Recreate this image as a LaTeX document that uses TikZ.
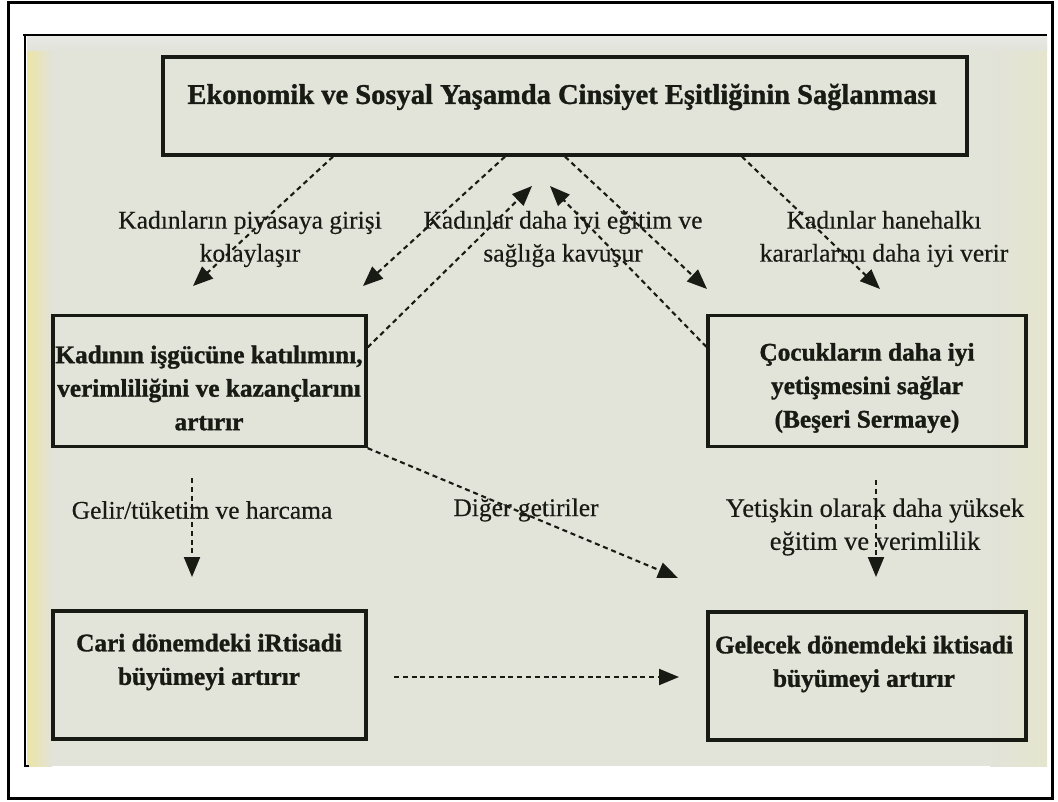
\documentclass[tikz,border=0pt]{standalone}
\usepackage{fontspec}
\setmainfont{Liberation Serif}[UprightFeatures={FakeBold=0.3},BoldFeatures={FakeBold=1.2}]
\usetikzlibrary{arrows.meta,calc}
\definecolor{paper}{RGB}{226,227,217}
\definecolor{ink}{RGB}{24,26,20}
\definecolor{edgeyel}{RGB}{236,228,165}
\definecolor{topgray}{RGB}{232,232,229}
\definecolor{rightyel}{RGB}{229,229,206}
\begin{document}
\begin{tikzpicture}[x=1pt,y=-1pt,
  boxframe/.style={draw=ink, line width=3.3pt, inner sep=0pt, rectangle},
  boxtext/.style={font=\bfseries\fontsize{25.3}{33.5}\selectfont, text=ink, align=center, inner sep=0pt},
  lbl/.style={font=\fontsize{25.5}{33}\selectfont, text=ink, align=center, inner sep=0pt},
  dl/.style={draw=ink, line width=2.1pt, dash pattern=on 5pt off 3.8pt, -{Triangle[length=20pt,width=16pt]}}]
\useasboundingbox (0,0) rectangle (1058,801);
% scanned page
\fill[paper] (27,36) rectangle (1047,766);
\shade[left color=edgeyel, right color=paper] (27,36) rectangle (52,766);
\shade[left color=paper, right color=rightyel] (990,36) rectangle (1047,766);
\shade[top color=topgray, bottom color=paper] (27,36) rectangle (1047,50);
% frames
\draw[line width=3pt] (8,2.5) rectangle (1052,798.5);
\draw[line width=2pt] (23,35) -- (1047,35);
\draw[line width=2pt] (24.5,35) -- (24.5,766) -- (28.5,766);
% boxes
\node[boxframe, minimum width=804pt, minimum height=98pt] (b1) at (565,106) {};
\node[boxframe, minimum width=313pt, minimum height=131pt] (b2) at (209.5,381) {};
\node[boxframe, minimum width=318pt, minimum height=131pt] (b3) at (867,381) {};
\node[boxframe, minimum width=313pt, minimum height=128pt] (b4) at (209.5,675) {};
\node[boxframe, minimum width=318pt, minimum height=128pt] (b5) at (867,676) {};
% box texts
\node[boxtext, font=\bfseries\fontsize{28.5}{34}\selectfont] (t1) at (562,97) {Ekonomik ve Sosyal Yaşamda Cinsiyet Eşitliğinin Sağlanması};
\node[boxtext] (t2) at (209,388) {Kadının işgücüne katılımını,\\verimliliğini ve kazançlarını\\artırır};
\node[boxtext] (t3) at (867,388) {Çocukların daha iyi\\yetişmesini sağlar\\(Beşeri Sermaye)};
\node[boxtext] (t4) at (209,662) {Cari dönemdeki iRtisadi\\büyümeyi artırır};
\node[boxtext] (t5) at (864,664) {Gelecek dönemdeki iktisadi\\büyümeyi artırır};
% labels
\node[lbl] (l1) at (250,239) {Kadınların piyasaya girişi\\kolaylaşır};
\node[lbl] (l2) at (563,239) {Kadınlar daha iyi eğitim ve\\sağlığa kavuşur};
\node[lbl] (l3) at (884,239) {Kadınlar hanehalkı\\kararlarını daha iyi verir};
\node[lbl] (l4) at (202,510) {Gelir/tüketim ve harcama};
\node[lbl] (l5) at (526,510) {Diğer getiriler};
\node[lbl, font=\fontsize{26.5}{33}\selectfont] (l6) at (875,527) {Yetişkin olarak daha yüksek\\eğitim ve verimlilik};
% free ends
\coordinate (e1) at (193,286);
\coordinate (e2) at (363,286);
\coordinate (e3) at (532,186);
\coordinate (e4) at (550,186);
\coordinate (e5) at (707,289);
\coordinate (e6) at (880,289);
\coordinate (e7) at (678,578);
\coordinate (s8) at (192,478);
\coordinate (e8) at (192,577);
\coordinate (s9) at (876,480);
\coordinate (e9) at (876,577);
\coordinate (s10) at (394,677);
\coordinate (e10) at (679,677);
% connectors
\draw[dl] ($(b1.south)+(-232,0)$) -- (e1);
\draw[dl] ($(b1.south)+(-60,0)$) -- (e2);
\draw[dl] (b2.12) -- (e3);
\draw[dl] (b3.168) -- (e4);
\draw[dl] (b1.south) -- (e5);
\draw[dl] ($(b1.south)+(177,0)$) -- (e6);
\draw[dl] (b2.south east) -- (e7);
\draw[dl] (s8) -- (e8);
\draw[dl] (s9) -- (e9);
\draw[dl] (s10) -- (e10);
\end{tikzpicture}
\end{document}
